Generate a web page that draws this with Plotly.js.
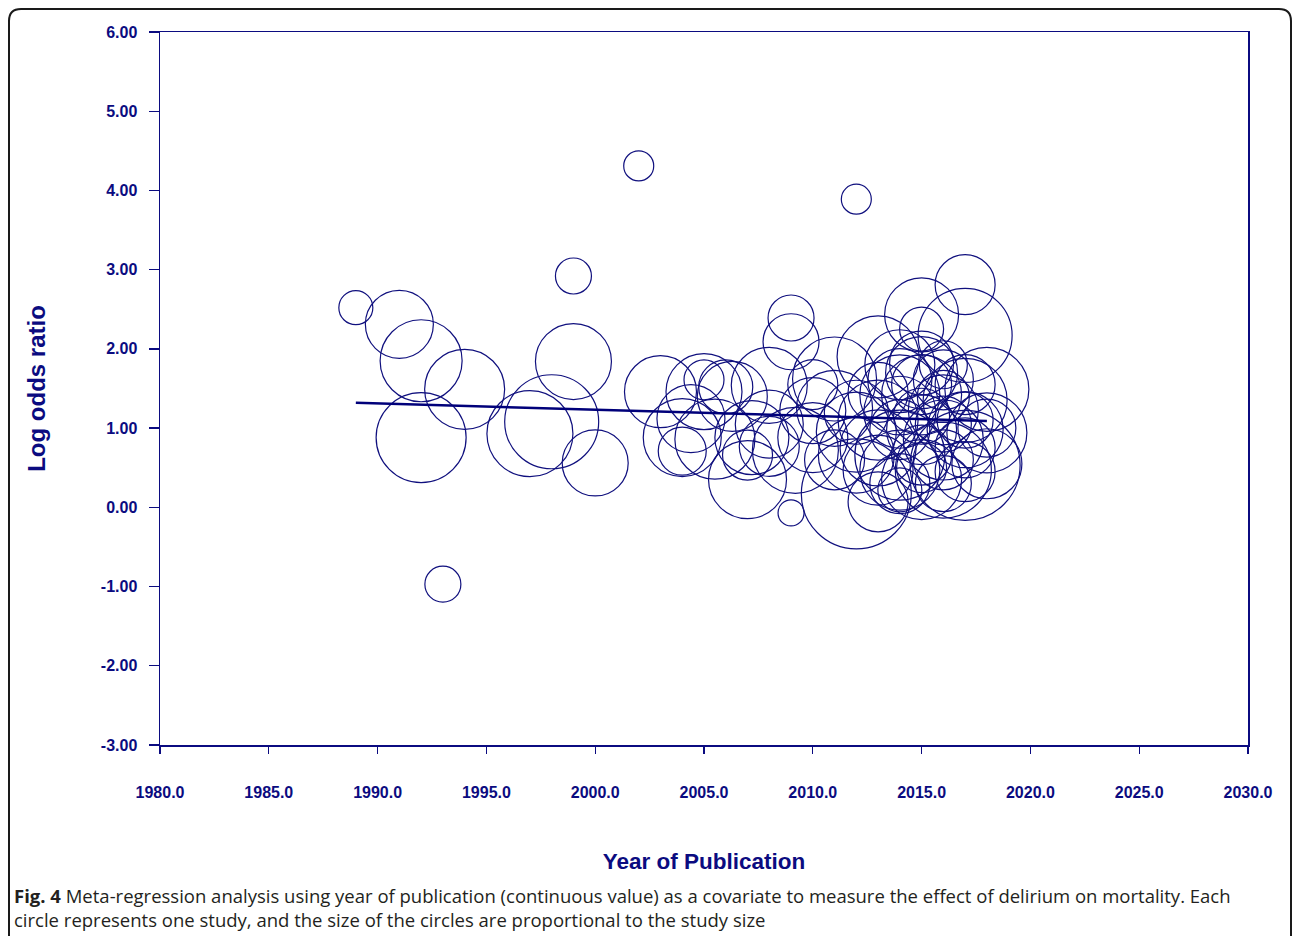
<!DOCTYPE html>
<html>
<head>
<meta charset="utf-8">
<script src="https://cdn.plot.ly/plotly-3.0.1.min.js"></script>
<style>
  html, body { margin: 0; padding: 0; background: #ffffff; }
  #chart { width: 1293px; height: 936px; }
</style>
</head>
<body>
<div id="chart"></div>
<script>
// ---- Data ----
// Publication year of each study
const pubYear = [
  1989, 1991, 1992, 1992, 1993, 1994, 1997, 1998, 1999, 1999,
  2000, 2002, 2003, 2004, 2004, 2004.4, 2005, 2005, 2005.5, 2006,
  2006.3, 2007, 2007, 2007.2, 2008, 2008, 2008, 2009, 2009, 2009,
  2009.2, 2010, 2010, 2011, 2011, 2011, 2012, 2012, 2012, 2012,
  2013, 2013, 2013, 2013, 2013, 2014, 2014, 2014, 2014, 2014,
  2014, 2014, 2015, 2015, 2015, 2015, 2015, 2015, 2015, 2015,
  2015, 2016, 2016, 2016, 2016, 2016, 2016, 2017, 2017, 2017,
  2017, 2017, 2017, 2017, 2018, 2018, 2018, 2018, 2012, 2010,
  2014, 2015, 2016, 2016, 2017, 2015, 2014, 2013, 2016, 2017
];
// Log odds ratio of each study
const logOddsRatio = [
  2.52, 2.31, 1.85, 0.88, -0.97, 1.49, 0.93, 1.08, 1.84, 2.92,
  0.56, 4.31, 1.46, 0.88, 0.71, 1.12, 1.46, 1.61, 0.86, 1.52,
  1.40, 0.35, 0.66, 0.88, 1.54, 0.77, 1.05, 2.39, 2.09, -0.07,
  0.72, 1.22, 0.88, 1.62, 1.25, 0.60, 3.89, 0.17, 0.66, 1.20,
  1.90, 0.07, 1.10, 0.47, 1.45, 1.80, 1.42, 0.98, 0.47, 0.22,
  0.66, 1.20, 2.43, 2.25, 1.82, 1.70, 1.42, 0.98, 0.66, 0.35,
  1.15, 1.61, 1.23, 0.85, 0.60, 0.47, 1.40, 2.81, 2.17, 1.35,
  0.98, 0.53, 0.45, 1.10, 1.49, 1.00, 0.94, 0.55, 0.95, 1.55,
  1.60, 1.55, 1.80, 1.05, 0.75, 0.50, 0.30, 0.75, 0.30, 1.55
];
// Relative study weight (circle size proportional to study size)
const studyWeight = [
  3.4, 6.8, 8.2, 9.0, 3.6, 8.0, 8.6, 9.4, 7.6, 3.6,
  6.6, 3.0, 7.2, 7.8, 4.8, 6.8, 7.6, 4.0, 8.0, 5.4,
  7.0, 7.8, 5.0, 7.4, 7.6, 6.0, 6.8, 4.6, 5.6, 2.6,
  8.6, 6.6, 7.0, 8.4, 7.6, 6.0, 3.0, 11.0, 7.6, 6.4,
  8.2, 6.0, 8.0, 7.0, 6.0, 7.0, 8.0, 6.0, 8.0, 4.4,
  9.0, 7.2, 7.4, 4.4, 6.4, 7.2, 8.0, 7.0, 6.0, 8.0,
  5.6, 6.0, 7.0, 8.0, 6.0, 9.6, 5.2, 6.0, 9.4, 8.4,
  7.6, 11.0, 6.0, 5.6, 8.4, 5.8, 8.0, 7.0, 8.0, 5.0,
  6.4, 6.0, 4.8, 5.6, 6.0, 5.0, 6.0, 7.6, 5.6, 6.0
];
// Meta-regression fitted line (endpoints)
const fitYear = [1989, 2018];
const fitLogOR = [1.32, 1.09];

// Axis ticks
const xTickVals = [1980, 1985, 1990, 1995, 2000, 2005, 2010, 2015, 2020, 2025, 2030];
const yTickVals = [-3, -2, -1, 0, 1, 2, 3, 4, 5, 6];

const captionText = '<b>Fig. 4</b> Meta-regression analysis using year of publication (continuous value) as a covariate to measure the effect of delirium on mortality. Each' +
  '<br>circle represents one study, and the size of the circles are proportional to the study size';

// ---- Styling ----
const navy = '#0b0b80';
const W = 1293, H = 936;
const mL = 160, mR = 45, mT = 32, mB = 191;
const pw = W - mL - mR, ph = H - mT - mB;
const px2paperX = p => (p - mL) / pw;
const py2paperY = p => (H - mB - p) / ph;

const circles = {
  type: 'scatter',
  mode: 'markers',
  x: pubYear,
  y: logOddsRatio,
  marker: {
    size: studyWeight,
    sizemode: 'diameter',
    sizeref: 0.1,
    color: 'rgba(0,0,0,0)',
    opacity: 1,
    line: { color: '#10107e', width: 1.2 }
  },
  hoverinfo: 'x+y',
  showlegend: false,
  cliponaxis: true
};

const fit = {
  type: 'scatter',
  mode: 'lines',
  x: fitYear,
  y: fitLogOR,
  line: { color: '#00007a', width: 2.5 },
  showlegend: false
};

// Rounded outer frame of the figure panel
const fx0 = px2paperX(9), fx1 = px2paperX(1291);
const fyTop = py2paperY(9), fyBot = py2paperY(945);
const rx = 12 / pw, ry = 12 / ph;
const framePath = `M ${fx0},${fyBot} L ${fx0},${fyTop - ry} Q ${fx0},${fyTop} ${fx0 + rx},${fyTop} ` +
  `L ${fx1 - rx},${fyTop} Q ${fx1},${fyTop} ${fx1},${fyTop - ry} L ${fx1},${fyBot}`;

const tickFont = { family: 'Liberation Sans, Arial, sans-serif', size: 16, color: navy, weight: 'bold' };
const xTitleFont = { family: 'Liberation Sans, Arial, sans-serif', size: 22.5, color: navy, weight: 'bold' };
const yTitleFont = { family: 'Liberation Sans, Arial, sans-serif', size: 24, color: navy, weight: 'bold' };

const layout = {
  width: W,
  height: H,
  margin: { l: mL, r: mR, t: mT, b: mB, pad: 0 },
  paper_bgcolor: '#ffffff',
  plot_bgcolor: '#ffffff',
  showlegend: false,
  xaxis: {
    range: [1980, 2030],
    tickvals: xTickVals,
    ticktext: xTickVals.map(v => v.toFixed(1)),
    ticks: 'outside',
    ticklen: 7,
    tickwidth: 1.3,
    tickcolor: navy,
    showline: true,
    linecolor: navy,
    linewidth: 1.5,
    mirror: true,
    showgrid: false,
    zeroline: false,
    tickfont: tickFont,
    ticklabelstandoff: 25,
    automargin: false,
    title: { text: 'Year of Publication', font: xTitleFont, standoff: 53 }
  },
  yaxis: {
    range: [-3, 6],
    tickvals: yTickVals,
    ticktext: yTickVals.map(v => v.toFixed(2)),
    ticks: 'outside',
    ticklen: 10,
    tickwidth: 1.3,
    tickcolor: navy,
    showline: true,
    linecolor: navy,
    linewidth: 1.5,
    mirror: true,
    showgrid: false,
    zeroline: false,
    tickfont: tickFont,
    ticklabelstandoff: 8,
    automargin: false,
    title: { text: 'Log odds ratio', font: yTitleFont, standoff: 48 }
  },
  shapes: [
    {
      type: 'path',
      xref: 'paper', yref: 'paper',
      path: framePath,
      line: { color: '#1a1a1a', width: 2 },
      layer: 'above'
    }
  ],
  annotations: [
    {
      xref: 'paper', yref: 'paper',
      x: px2paperX(12), y: py2paperY(907),
      xanchor: 'left', yanchor: 'middle',
      text: captionText,
      showarrow: false,
      align: 'left',
      font: { family: 'Open Sans, Noto Sans, sans-serif', size: 18.5, color: '#231f20' }
    }
  ]
};

Plotly.newPlot('chart', [circles, fit], layout, { displayModeBar: false, staticPlot: true });
</script>
</body>
</html>
